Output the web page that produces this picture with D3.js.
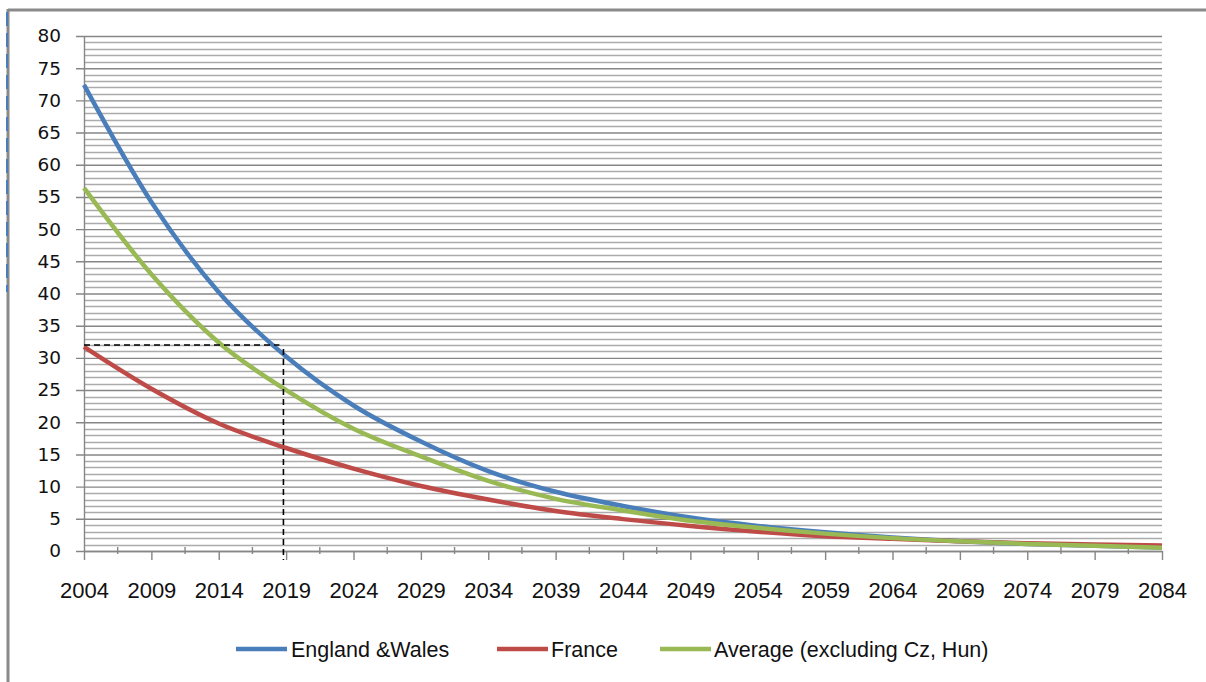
<!DOCTYPE html>
<html>
<head>
<meta charset="utf-8">
<script src="https://cdn.jsdelivr.net/npm/d3@7"></script>
<style>
  html, body { margin: 0; padding: 0; background: #fff; }
  svg { display: block; }
</style>
</head>
<body>
<svg id="chart" width="1206" height="682"></svg>
<script>
// ---- Data ----
const years = [2004, 2009, 2014, 2019, 2024, 2029, 2034, 2039, 2044, 2049, 2054, 2059, 2064, 2069, 2074, 2079, 2084];
const englandWales = [72.4, 54.2, 40.2, 30.2, 22.6, 17.0, 12.4, 9.2, 7.0, 5.2, 3.9, 2.9, 2.1, 1.5, 1.1, 0.8, 0.55];
const france       = [31.7, 25.2, 19.8, 16.0, 12.8, 10.1, 8.0, 6.2, 4.95, 3.9, 3.0, 2.3, 1.9, 1.5, 1.2, 1.0, 0.85];
const average      = [56.4, 43.0, 32.4, 25.0, 19.0, 14.7, 10.9, 8.1, 6.3, 4.7, 3.6, 2.7, 2.0, 1.5, 1.1, 0.8, 0.5];
const seriesNames  = ["England &Wales", "France", "Average (excluding Cz, Hun)"];
const yTicks = [0, 5, 10, 15, 20, 25, 30, 35, 40, 45, 50, 55, 60, 65, 70, 75, 80];
const xTickLabels = years;
// reference marker (dashed guide)
const guideValue = 32;
const guideYear = 2018.8;

(function () {
// ---- Layout ----
const svg = d3.select("#chart");
const pLeft = 84, pRight = 1162, pTop = 36, pBottom = 551;

const x = d3.scaleLinear().domain([2004, 2084]).range([pLeft, pRight]);
const y = d3.scaleLinear().domain([0, 80]).range([pBottom, pTop]);

const colors = ["#4a7ebb", "#be4b48", "#98b954"];

// outer frame
svg.append("line").attr("x1", 8).attr("x2", 1206).attr("y1", 10).attr("y2", 10)
  .attr("stroke", "#8a8a8a").attr("stroke-width", 3);
svg.append("line").attr("x1", 8).attr("x2", 8).attr("y1", 9).attr("y2", 682)
  .attr("stroke", "#8a8a8a").attr("stroke-width", 3);
svg.append("line").attr("x1", 7).attr("x2", 7).attr("y1", 12).attr("y2", 292)
  .attr("stroke", "#4a7ebb").attr("stroke-width", 2).attr("stroke-dasharray", "14 7");

// gridlines: minor every 1, major every 5
const minor = d3.range(1, 80).filter(v => v % 5 !== 0);
svg.append("g").selectAll("line").data(minor).join("line")
  .attr("x1", pLeft).attr("x2", pRight)
  .attr("y1", d => Math.round(y(d)) + 0.5).attr("y2", d => Math.round(y(d)) + 0.5)
  .attr("stroke", "#ababab").attr("stroke-width", 1.4);

// y axis with major gridlines
const yAxis = d3.axisLeft(y).tickValues(yTicks).tickSize(-(pRight - pLeft)).tickSizeOuter(0).tickPadding(22);
const gy = svg.append("g").attr("transform", `translate(${pLeft},0)`).call(yAxis);
gy.select(".domain").remove();
gy.selectAll(".tick line").attr("stroke", "#868686").attr("stroke-width", 1.4)
  .attr("x1", -8);
gy.selectAll(".tick text")
  .attr("font-family", "DejaVu Sans, sans-serif").attr("font-size", "18.5px")
  .attr("fill", "#111").attr("x", -23);

// y axis line
svg.append("line").attr("x1", pLeft + 0.5).attr("x2", pLeft + 0.5).attr("y1", pTop).attr("y2", pBottom)
  .attr("stroke", "#868686").attr("stroke-width", 1.4);

// x axis
const xAxis = d3.axisBottom(x).tickValues(xTickLabels).tickFormat(d3.format("d")).tickSize(9).tickSizeOuter(0).tickPadding(22);
const gx = svg.append("g").attr("transform", `translate(0,${pBottom})`).call(xAxis);
gx.select(".domain").attr("stroke", "#868686").attr("stroke-width", 1.4);
gx.selectAll(".tick line").attr("stroke", "#868686").attr("stroke-width", 1.4);
gx.selectAll(".tick text")
  .attr("font-family", "Liberation Sans, Arial, sans-serif").attr("font-size", "22px")
  .attr("fill", "#111");
// minor x ticks between labels
const midTicks = years.slice(0, -1).map(d => d + 2.5);
svg.append("g").selectAll("line").data(midTicks).join("line")
  .attr("x1", d => x(d)).attr("x2", d => x(d))
  .attr("y1", pBottom - 4).attr("y2", pBottom + 3)
  .attr("stroke", "#868686").attr("stroke-width", 1.4);

// series lines
const line = d3.line().x((d, i) => x(years[i])).y(d => y(d)).curve(d3.curveMonotoneX);
[englandWales, france, average].forEach((s, i) => {
  svg.append("path").datum(s).attr("d", line)
    .attr("fill", "none").attr("stroke", colors[i]).attr("stroke-width", 4.5)
    .attr("stroke-linejoin", "round").attr("stroke-linecap", "butt");
});

// dashed guide lines
svg.append("line")
  .attr("x1", x(2004)).attr("x2", x(guideYear) - 4)
  .attr("y1", y(guideValue)).attr("y2", y(guideValue))
  .attr("stroke", "#000").attr("stroke-width", 1.6).attr("stroke-dasharray", "6 4");
svg.append("line")
  .attr("x1", x(guideYear)).attr("x2", x(guideYear))
  .attr("y1", y(guideValue) + 4).attr("y2", pBottom + 9)
  .attr("stroke", "#000").attr("stroke-width", 1.6).attr("stroke-dasharray", "6 4");

// legend
const legendItems = [
  { name: seriesNames[0], color: colors[0], x1: 236, x2: 287, tx: 291 },
  { name: seriesNames[1], color: colors[1], x1: 497, x2: 548, tx: 551 },
  { name: seriesNames[2], color: colors[2], x1: 660, x2: 711, tx: 714 }
];
const lg = svg.append("g");
legendItems.forEach(it => {
  lg.append("line").attr("x1", it.x1).attr("x2", it.x2).attr("y1", 649).attr("y2", 649)
    .attr("stroke", it.color).attr("stroke-width", 4.5);
  lg.append("text").attr("x", it.tx).attr("y", 657)
    .attr("font-family", "Liberation Sans, Arial, sans-serif").attr("font-size", "21.5px")
    .attr("fill", "#111").text(it.name);
});
})();
</script>
</body>
</html>
